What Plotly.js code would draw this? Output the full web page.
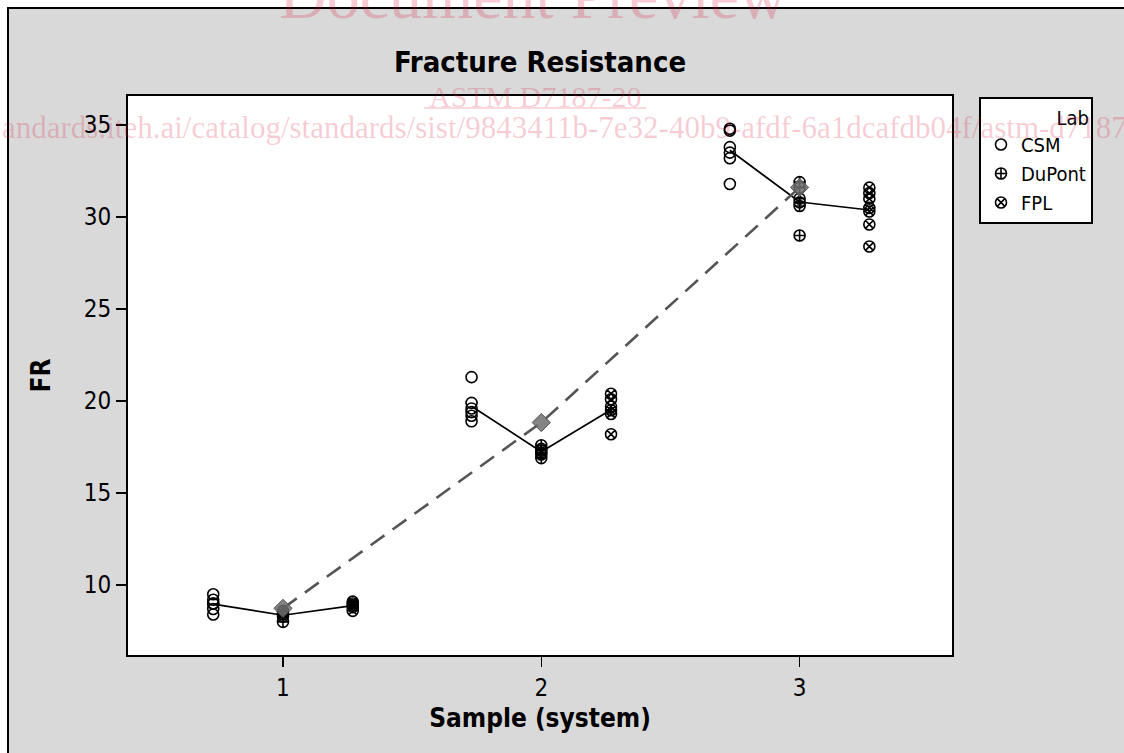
<!DOCTYPE html>
<html>
<head>
<meta charset="utf-8">
<script src="https://cdn.plot.ly/plotly-3.0.1.min.js"></script>
<style>
html, body { margin: 0; padding: 0; background: #ffffff; overflow: hidden; }
#chart { width: 1124px; height: 753px; }
</style>
</head>
<body>
<div id="chart"></div>
<script>
// ---- data ----
const samples = [1, 2, 3];
const sampleTicks = ['1', '2', '3'];
const labs = ['CSM', 'DuPont', 'FPL'];
const labSymbols = ['circle-open', 'circle-cross-open', 'circle-x-open'];
const labOffsets = [-0.27, 0, 0.27];

// values per sample (1, 2, 3) for each lab
const csmValues = [
  [9.5, 9.2, 9.0, 9.0, 8.7, 8.4],
  [21.3, 19.9, 19.6, 19.4, 19.2, 18.9],
  [34.8, 34.7, 33.8, 33.5, 33.2, 31.8]
];
const dupontValues = [
  [8.6, 8.5, 8.4, 8.3, 8.0],
  [17.6, 17.4, 17.3, 17.2, 17.1, 16.9],
  [31.9, 31.6, 31.0, 30.8, 30.6, 29.0]
];
const fplValues = [
  [9.1, 9.0, 8.9, 8.8, 8.6],
  [20.4, 20.1, 19.7, 19.5, 19.3, 18.2],
  [31.6, 31.3, 31.0, 30.5, 30.3, 29.6, 28.4]
];
const labValues = [csmValues, dupontValues, fplValues];
const yTickVals = [10, 15, 20, 25, 30, 35];

const titleText = 'Fracture Resistance';
const xTitle = 'Sample (system)';
const yTitle = 'FR';
const legendTitle = 'Lab';

// ---- layout geometry ----
const FIG_W = 1124, FIG_H = 753;
const M = { l: 128, r: 172, t: 96, b: 98 };
const PW = FIG_W - M.l - M.r;
const PH = FIG_H - M.t - M.b;
const pxX = p => (p - M.l) / PW;
const pxY = p => (FIG_H - M.b - p) / PH;

const FONT = '"DejaVu Sans Condensed", "DejaVu Sans", Verdana, sans-serif';
const SERIF = '"Liberation Serif", "DejaVu Serif", serif';
const WM = 'rgba(220, 20, 60, 0.22)';

const mean = a => a.reduce((s, v) => s + v, 0) / a.length;

const traces = [];

// lab-mean connecting lines within each sample
samples.forEach((s, si) => {
  traces.push({
    type: 'scatter', mode: 'lines',
    x: labOffsets.map(o => s + o),
    y: labValues.map(lv => mean(lv[si])),
    line: { color: '#000000', width: 1.7 },
    showlegend: false, hoverinfo: 'skip'
  });
});

// grand mean dashed connection
const grandMeans = samples.map((s, si) => mean(labValues.map(lv => mean(lv[si]))));
traces.push({
  type: 'scatter', mode: 'lines',
  x: samples, y: grandMeans,
  line: { color: '#555555', width: 2.6, dash: '17px,10px' },
  showlegend: false, hoverinfo: 'skip'
});

// individual values
labs.forEach((lab, li) => {
  const xs = [], ys = [];
  samples.forEach((s, si) => {
    labValues[li][si].forEach(v => { xs.push(s + labOffsets[li]); ys.push(v); });
  });
  traces.push({
    type: 'scatter', mode: 'markers', name: lab,
    x: xs, y: ys,
    marker: { symbol: labSymbols[li], size: 11, color: '#000000', line: { width: 1.6, color: '#000000' } }
  });
});

// grand mean diamonds
traces.push({
  type: 'scatter', mode: 'markers',
  x: samples, y: grandMeans,
  marker: { symbol: 'diamond', size: 14, color: 'rgba(110,110,110,0.85)', line: { width: 1, color: '#555555' } },
  showlegend: false
});

const layout = {
  width: FIG_W, height: FIG_H,
  margin: M,
  paper_bgcolor: '#ffffff',
  plot_bgcolor: '#ffffff',
  font: { family: FONT, color: '#000000', size: 20 },
  title: {
    text: '<b>' + titleText + '</b>',
    font: { family: FONT, size: 29, color: '#000000' },
    x: 0.5, xref: 'paper', xanchor: 'center',
    y: 1 - 62 / FIG_H, yref: 'container', yanchor: 'middle'
  },
  xaxis: {
    range: [0.40, 3.59],
    tickmode: 'array', tickvals: samples, ticktext: sampleTicks,
    ticks: 'outside', ticklen: 10, tickwidth: 1.5, tickcolor: '#000000',
    showline: true, linecolor: '#000000', linewidth: 2, mirror: true,
    showgrid: false, zeroline: false,
    tickfont: { family: FONT, size: 24 },
    title: { text: '<b>' + xTitle + '</b>', font: { family: FONT, size: 26 }, standoff: 8 },
    automargin: false, fixedrange: true
  },
  yaxis: {
    range: [6.2, 36.58],
    tickmode: 'array', tickvals: yTickVals,
    ticks: 'outside', ticklen: 10, tickwidth: 1.5, tickcolor: '#000000',
    showline: true, linecolor: '#000000', linewidth: 2, mirror: true,
    showgrid: false, zeroline: false,
    tickfont: { family: FONT, size: 24 },
    title: { text: '<b>' + yTitle + '</b>', font: { family: FONT, size: 26 }, standoff: 26 },
    automargin: false, fixedrange: true
  },
  legend: {
    x: pxX(979), y: pxY(97), xanchor: 'left', yanchor: 'top',
    bgcolor: '#ffffff', bordercolor: '#000000', borderwidth: 2,
    font: { family: FONT, size: 20 },
    title: { text: legendTitle, side: 'top right', font: { family: FONT, size: 20 } },
    tracegroupgap: 0, itemwidth: 30
  },
  shapes: [
    { type: 'rect', xref: 'paper', yref: 'paper', layer: 'below',
      x0: pxX(8), x1: pxX(1140), y0: pxY(770), y1: pxY(8),
      fillcolor: '#d9d9d9', line: { color: '#000000', width: 2 } },
    { type: 'rect', xref: 'paper', yref: 'paper', layer: 'below',
      x0: 0, x1: 1, y0: 0, y1: 1,
      fillcolor: '#ffffff', line: { width: 0 } },
    { type: 'line', xref: 'paper', yref: 'paper', layer: 'above',
      x0: pxX(424), x1: pxX(646), y0: pxY(108), y1: pxY(108),
      line: { color: WM, width: 1.5 } }
  ],
  annotations: [
    { text: 'Document Preview', xref: 'paper', yref: 'paper',
      x: pxX(533), y: pxY(34), xanchor: 'center', yanchor: 'bottom',
      showarrow: false, font: { family: SERIF, size: 66, color: WM } },
    { text: 'ASTM D7187-20', xref: 'paper', yref: 'paper',
      x: pxX(535), y: pxY(96), xanchor: 'center', yanchor: 'middle',
      showarrow: false, font: { family: SERIF, size: 30, color: WM } },
    { text: 'andards.iteh.ai/catalog/standards/sist/9843411b-7e32-40b9-afdf-6a1dcafdb04f/astm-d7187-20', xref: 'paper', yref: 'paper',
      x: pxX(0), y: pxY(127), xanchor: 'left', yanchor: 'middle',
      showarrow: false, font: { family: SERIF, size: 31, color: WM } }
  ]
};

Plotly.newPlot('chart', traces, layout, { staticPlot: true, displayModeBar: false });
</script>
</body>
</html>
